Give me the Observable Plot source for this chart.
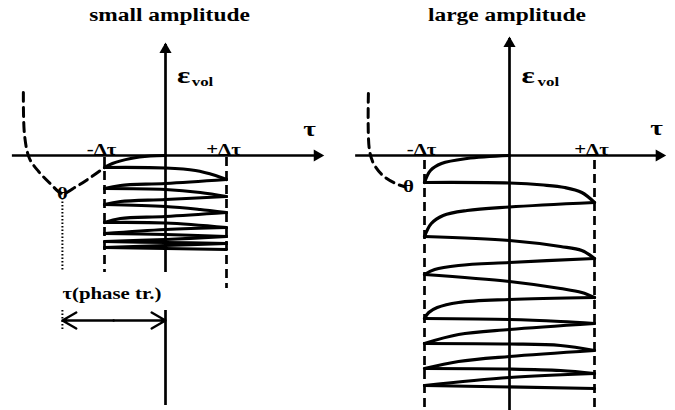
<!DOCTYPE html>
<html>
<head>
<meta charset="utf-8">
<script src="https://cdn.jsdelivr.net/npm/d3@7"></script>
<script src="https://cdn.jsdelivr.net/npm/@observablehq/plot@0.6"></script>
<style>
  body { margin: 0; background: #fff; }
  #chart { display: flex; width: 675px; height: 410px; }
</style>
</head>
<body>
<div id="chart"></div>
<script>
// Shear strain τ is measured in units of the cycle amplitude Δτ,
// volumetric strain ε_vol in arbitrary units (positive upwards).

const panelTitles = ["small amplitude", "large amplitude"];
const tickLabels = [{tau: -1, text: "-Δτ"}, {tau: 1, text: "+Δτ"}];
const phaseLabel = "τ(phase tr.)";

// ---- small amplitude ----
// monotonic response before cycling (dashed), ending at -Δτ
const smallMonotonic = [
  [-2.33, 6.3], [-2.31, 2.0], [-2.23, -0.3], [-2.08, -1.6], [-1.89, -2.8],
  [-1.69, -3.8], [-1.46, -3.1], [-1.23, -2.2], [-1.0, -1.2]
];
const smallTransition = {tau: -1.69, eps: -3.8};
// cyclic path, one array per half cycle
const smallCycles = [
  [[0, 0], [-0.25, -0.05], [-0.57, -0.3], [-0.87, -0.8], [-1, -1.2]],
  [[-1, -1.2], [0, -1.25], [0.49, -1.5], [0.82, -2.0], [1, -2.4]],
  [[1, -2.4], [0, -2.8], [-0.74, -3.0], [-1, -3.3]],
  [[-1, -3.3], [0, -3.4], [0.57, -3.7], [1, -4.1]],
  [[1, -4.1], [0, -4.4], [-0.74, -4.6], [-1, -4.9]],
  [[-1, -4.9], [0, -5.1], [0.57, -5.4], [1, -5.7]],
  [[1, -5.7], [0, -6.1], [-0.74, -6.3], [-1, -6.7]],
  [[-1, -6.7], [0, -6.75], [1, -7.2]],
  [[1, -7.2], [0, -7.4], [-1, -7.8]],
  [[-1, -7.8], [0, -7.9], [1, -8.1]],
  [[1, -8.1], [0, -8.4], [-1, -8.6]],
  [[-1, -8.6], [0, -8.7], [1, -8.8]],
  [[1, -8.8], [0, -9.0], [-1, -9.2]],
  [[-1, -9.2], [1, -9.4]]
];

// ---- large amplitude ----
const largeMonotonic = [
  [-1.66, 6.2], [-1.65, 0.7], [-1.6, -0.8], [-1.49, -2.0], [-1.34, -2.8], [-1.24, -3.1]
];
const largeTransition = {tau: -1.19, eps: -3.1};
const largeCycles = [
  [[0, 0], [-0.5, -0.3], [-0.8, -0.8], [-0.93, -1.5], [-1, -2.7]],
  [[-1, -2.7], [0, -2.75], [0.4, -2.95], [0.65, -3.2], [0.85, -3.7], [1, -4.7]],
  [[1, -4.7], [0, -5.15], [-0.5, -5.5], [-0.78, -6.0], [-0.92, -6.8], [-1, -8.1]],
  [[-1, -8.1], [0, -8.5], [0.6, -9.1], [0.85, -9.5], [1, -10.3]],
  [[1, -10.3], [0, -10.7], [-0.6, -11.0], [-0.88, -11.4], [-1, -11.9]],
  [[-1, -11.9], [0, -12.6], [0.6, -13.3], [0.85, -13.7], [1, -14.2]],
  [[1, -14.2], [0, -14.4], [-0.6, -14.7], [-0.85, -15.2], [-0.95, -15.7], [-1, -16.3]],
  [[-1, -16.3], [0, -16.4], [0.6, -16.6], [1, -16.8]],
  [[1, -16.8], [0, -17.4], [-0.6, -17.9], [-1, -18.8]],
  [[-1, -18.8], [0, -18.85], [0.6, -19.0], [1, -19.5]],
  [[1, -19.5], [0, -20.1], [-0.6, -20.6], [-1, -21.3]],
  [[-1, -21.3], [0, -21.35], [0.6, -21.5], [1, -21.8]],
  [[1, -21.8], [0, -22.2], [-1, -23.0]],
  [[-1, -23.0], [1, -23.3]]
];

const font = "Liberation Serif, Times New Roman, serif";
const ink = "#000";

function drawPanel(cfg) {
  const halfCycles = cfg.cycles.flatMap((s, i) => s.map(([tau, eps]) => ({tau, eps, seg: i})));
  const monotonic = cfg.monotonic.map(([tau, eps]) => ({tau, eps}));
  const bold = {fontWeight: "bold", fontFamily: font};
  const marks = [
    Plot.text([cfg.title], {frameAnchor: "top", dy: 8, fontSize: 18, ...bold}),
    // τ axis with arrow
    Plot.ruleY([0], {x1: cfg.tauAxis[0], x2: cfg.tauAxis[1], stroke: ink, strokeWidth: 2.7}),
    Plot.dot([{tau: cfg.tauAxis[1], eps: 0}], {x: "tau", y: "eps", symbol: "triangle", r: 4.5, fill: ink, rotate: 90, dx: -5}),
    // ε axis with arrow
    Plot.ruleX(cfg.epsAxis, {x: 0, y1: d => d[0], y2: d => d[1], stroke: ink, strokeWidth: 2.7}),
    Plot.dot([{tau: 0, eps: cfg.epsAxis[0][0]}], {x: "tau", y: "eps", symbol: "triangle", r: 4.5, fill: ink, dy: 5}),
    // ±Δτ guides
    Plot.ruleX(cfg.guides, {x: "tau", y1: "top", y2: "bottom", stroke: ink, strokeWidth: 2.7, strokeDasharray: "9,5"}),
    // monotonic curve up to the cycling start
    Plot.line(monotonic, {x: "tau", y: "eps", curve: "catmull-rom", stroke: ink, strokeWidth: 3, strokeDasharray: "9,6"}),
    // cyclic response
    Plot.line(halfCycles, {x: "tau", y: "eps", z: "seg", curve: "catmull-rom", stroke: ink, strokeWidth: 3.2,
      strokeLinejoin: "round", strokeLinecap: "round"}),
    Plot.text([cfg.transition], {x: "tau", y: "eps", text: () => "θ", fontSize: 16, ...bold}),
    // labels
    Plot.text(tickLabels, {x: "tau", y: 0, text: "text", lineAnchor: "bottom", dy: -1, dx: -3, fontSize: 16, ...bold}),
    Plot.text([cfg.tauLabel], {x: "tau", y: "eps", text: () => "τ", fontSize: 21, ...bold}),
    Plot.text([cfg.epsLabel], {x: "tau", y: "eps", text: () => "ε", textAnchor: "start", fontSize: 24, ...bold}),
    Plot.text([cfg.volLabel], {x: "tau", y: "eps", text: () => "vol", textAnchor: "start", fontSize: 13, ...bold}),
    ...(cfg.extra || [])
  ];
  return Plot.plot({
    width: cfg.width,
    height: 410,
    margin: 0,
    x: {domain: cfg.tauDomain, range: [0, cfg.width], axis: null},
    y: {domain: [15.5, -25.5], range: [0, 410], axis: null},
    style: {background: "#fff", fontFamily: font, overflow: "visible"},
    marks
  });
}

const small = drawPanel({
  title: panelTitles[0],
  width: 338,
  tauDomain: [-165 / 61, 173 / 61],
  tauAxis: [-2.51, 2.57],
  epsAxis: [[11.1, -11.7], [-15.5, -25]],
  guides: [{tau: -1, top: -0.2, bottom: -11.7}, {tau: 1, top: -0.2, bottom: -13.3}],
  monotonic: smallMonotonic,
  transition: smallTransition,
  cycles: smallCycles,
  tauLabel: {tau: 2.36, eps: 2.6},
  epsLabel: {tau: 0.19, eps: 8.0},
  volLabel: {tau: 0.43, eps: 7.4},
  extra: [
    // dotted marker from the phase transition point
    Plot.ruleX([{tau: -1.69, top: -4.3, bottom: -11.5}, {tau: -1.69, top: -15.5, bottom: -17.5}],
      {x: "tau", y1: "top", y2: "bottom", stroke: ink, strokeWidth: 2, strokeDasharray: "1.5,2"}),
    Plot.arrow([{from: -0.85, to: -1.69}, {from: -0.85, to: 0}],
      {x1: "from", x2: "to", y1: -16.5, y2: -16.5, stroke: ink, strokeWidth: 2.4, headLength: 10}),
    Plot.text([phaseLabel], {x: -1.69, y: -13.8, textAnchor: "start", fontSize: 16, fontWeight: "bold", fontFamily: font})
  ]
});

const large = drawPanel({
  title: panelTitles[1],
  width: 337,
  tauDomain: [-171 / 85, 166 / 85],
  tauAxis: [-1.81, 1.82],
  epsAxis: [[11.7, -25.5]],
  guides: [{tau: -1, top: -0.5, bottom: -25.5}, {tau: 1, top: -0.5, bottom: -25.5}],
  monotonic: largeMonotonic,
  transition: largeTransition,
  cycles: largeCycles,
  tauLabel: {tau: 1.73, eps: 2.75},
  epsLabel: {tau: 0.14, eps: 8.05},
  volLabel: {tau: 0.33, eps: 7.4}
});

const chart = document.getElementById("chart");
chart.append(small, large);

// the lettering is set wide: stretch every label horizontally
for (const t of chart.querySelectorAll("text")) {
  const w = t.getComputedTextLength();
  if (w > 0) {
    t.setAttribute("textLength", (w * 1.3).toFixed(1));
    t.setAttribute("lengthAdjust", "spacingAndGlyphs");
  }
}
</script>
</body>
</html>
